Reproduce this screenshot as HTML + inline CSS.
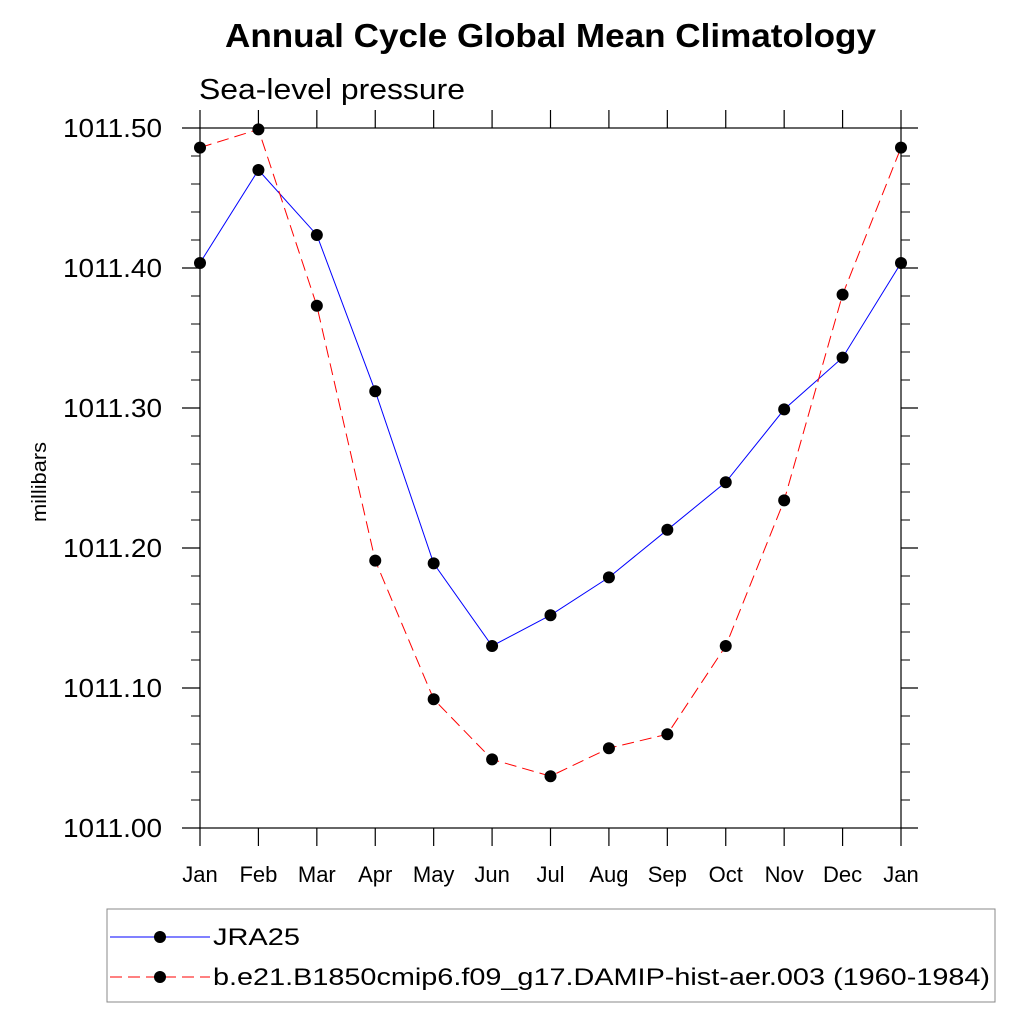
<!DOCTYPE html>
<html><head><meta charset="utf-8"><style>body{margin:0;background:#fff}svg{display:block}text{font-family:"Liberation Sans",sans-serif}</style></head>
<body>
<svg id="chart" width="1024" height="1024" viewBox="0 0 1024 1024">
<text x="225" y="47" font-size="33" font-weight="bold" textLength="651" lengthAdjust="spacingAndGlyphs">Annual Cycle Global Mean Climatology</text>
<text x="199" y="99" font-size="29" textLength="266" lengthAdjust="spacingAndGlyphs">Sea-level pressure</text>
<text transform="translate(46,482) rotate(-90)" text-anchor="middle" font-size="20" textLength="80" lengthAdjust="spacingAndGlyphs">millibars</text>
<g id="axes"></g>
<g id="series"></g>
<g>
<rect x="107" y="909" width="888" height="93" fill="#fff" stroke="#888" stroke-width="1"/>
<line x1="110" y1="937" x2="210" y2="937" stroke="#00f" stroke-width="1"/>
<circle cx="160" cy="937" r="6" fill="#000"/>
<text x="213" y="945" font-size="24" textLength="87" lengthAdjust="spacingAndGlyphs">JRA25</text>
<line x1="110" y1="977" x2="210" y2="977" stroke="#f00" stroke-width="1" stroke-dasharray="12,6"/>
<circle cx="160" cy="977" r="6" fill="#000"/>
<text x="213" y="985" font-size="24" textLength="777" lengthAdjust="spacingAndGlyphs">b.e21.B1850cmip6.f09_g17.DAMIP-hist-aer.003 (1960-1984)</text>
</g>
</svg>
<script>
const months = ["Jan","Feb","Mar","Apr","May","Jun","Jul","Aug","Sep","Oct","Nov","Dec","Jan"];
const jra25 = [1011.4036,1011.470,1011.4236,1011.312,1011.189,1011.130,1011.152,1011.179,1011.213,1011.247,1011.299,1011.336,1011.4036];
const model = [1011.486,1011.499,1011.373,1011.191,1011.092,1011.049,1011.037,1011.057,1011.067,1011.130,1011.234,1011.381,1011.486];
const yTicks = [1011.00,1011.10,1011.20,1011.30,1011.40,1011.50];
const yMin = 1011.0, yMax = 1011.5;
const L=200,R=901,T=128,B=828;
const xs = i => L + i*(R-L)/(months.length-1);
const ys = v => B - (v-yMin)/(yMax-yMin)*(B-T);
const NS="http://www.w3.org/2000/svg";
function mk(tag,attrs,parent){const e=document.createElementNS(NS,tag);for(const k in attrs)e.setAttribute(k,attrs[k]);parent.appendChild(e);return e;}
const ax=document.getElementById('axes');
const frame=mk('rect',{x:L,y:T,width:R-L,height:B-T,fill:'none',stroke:'#000','stroke-width':1.2},ax);


months.forEach((m,i)=>{
  const x=xs(i);
  mk('line',{x1:x,y1:B,x2:x,y2:B+18,stroke:'#000','stroke-width':1.2},ax);
  mk('line',{x1:x,y1:T,x2:x,y2:T-18,stroke:'#000','stroke-width':1.2},ax);
  const t=mk('text',{x:x,y:882,'text-anchor':'middle','font-size':22},ax);
  t.textContent=m;
  
  
});
for(let v=yMin;v<=yMax+1e-9;v+=0.02){
  const y=ys(v);
  mk('line',{x1:L,y1:y,x2:L-9,y2:y,stroke:'#000','stroke-width':1},ax);
  mk('line',{x1:R,y1:y,x2:R+9,y2:y,stroke:'#000','stroke-width':1},ax);
}
yTicks.forEach(v=>{
  const y=ys(v);
  mk('line',{x1:L,y1:y,x2:L-18,y2:y,stroke:'#000','stroke-width':1.2},ax);
  mk('line',{x1:R,y1:y,x2:R+17,y2:y,stroke:'#000','stroke-width':1.2},ax);
  const t=mk('text',{x:63,y:y+9,'font-size':26,textLength:99,lengthAdjust:'spacingAndGlyphs'},ax);
  t.textContent=v.toFixed(2);
  
  
});
const sg=document.getElementById('series');
function drawSeries(vals,color,dash,name){
  const pts=vals.map((v,i)=>xs(i)+','+ys(v)).join(' ');
  const pl=mk('polyline',{points:pts,fill:'none',stroke:color,'stroke-width':1,'stroke-dasharray':dash},sg);
  
  
  vals.forEach((v,i)=>{
    const c=mk('circle',{cx:xs(i),cy:ys(v),r:6,fill:'#000'},sg);
    
    
  });
}
drawSeries(jra25,'#00f','none','jra25');
drawSeries(model,'#f00','12,6','model');
</script>
</body></html>
